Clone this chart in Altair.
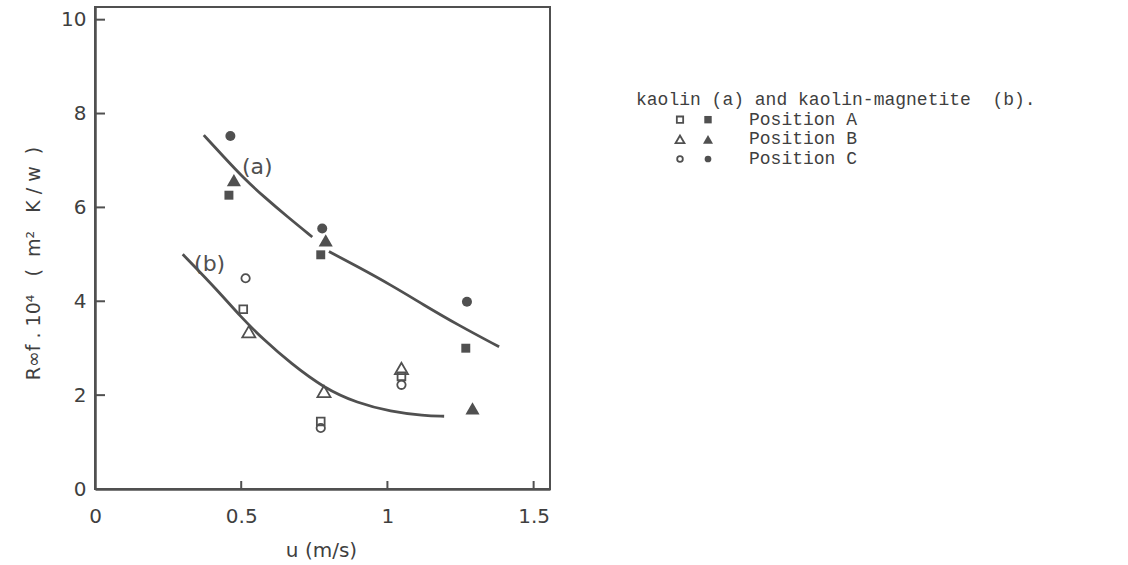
import altair as alt
import pandas as pd

# ---- data ----
# kaolin (a): filled symbols
a_pos = ["C", "B", "A", "C", "B", "A", "C", "A", "B"]
a_u = [0.463, 0.475, 0.458, 0.777, 0.789, 0.772, 1.272, 1.268, 1.291]
a_r = [7.52, 6.58, 6.26, 5.55, 5.30, 4.99, 3.99, 3.00, 1.72]

# kaolin-magnetite (b): open symbols
b_pos = ["C", "A", "B", "B", "A", "C", "B", "A", "C"]
b_u = [0.515, 0.507, 0.526, 0.783, 0.772, 0.772, 1.048, 1.048, 1.048]
b_r = [4.49, 3.83, 3.35, 2.08, 1.44, 1.30, 2.57, 2.40, 2.22]

# fitted curves (traced)
ca_seg = ["a1"] * 6 + ["a2"] * 6
ca_u = [0.372, 0.440, 0.509, 0.577, 0.658, 0.743, 0.800, 0.897, 1.011, 1.125, 1.240, 1.382]
ca_r = [7.54, 7.08, 6.62, 6.23, 5.80, 5.37, 5.06, 4.74, 4.35, 3.92, 3.50, 3.03]
cb_u = [0.300, 0.418, 0.498, 0.577, 0.669, 0.783, 0.897, 1.011, 1.125, 1.194]
cb_r = [5.00, 4.24, 3.67, 3.18, 2.68, 2.15, 1.83, 1.65, 1.56, 1.55]

# curve labels
lab_text = ["(a)", "(b)"]
lab_u = [0.555, 0.392]
lab_r = [6.86, 4.79]

x_ticks = [0, 0.5, 1, 1.5]
y_ticks = [0, 2, 4, 6, 8, 10]

legend_rows = ["A", "B", "C"]
legend_labels = ["Position A", "Position B", "Position C"]
legend_title = "kaolin (a) and kaolin-magnetite\u00a0\u00a0(b)."

positions = ["A", "B", "C"]
shapes = {"A": "square", "B": "triangle-up", "C": "circle"}
size_filled = {"A": 80, "B": 200, "C": 100}
size_open = {"A": 60, "B": 170, "C": 70}
size_leg_filled = {"A": 55, "B": 100, "C": 45}
size_leg_open = {"A": 40, "B": 80, "C": 32}

INK = "#505050"
TXT = "#3f3f3f"
W, H = 455, 482

df_a = pd.DataFrame({"u": a_u, "r": a_r, "pos": a_pos})
df_b = pd.DataFrame({"u": b_u, "r": b_r, "pos": b_pos})
df_ca = pd.DataFrame({"u": ca_u, "r": ca_r, "seg": ca_seg})
df_cb = pd.DataFrame({"u": cb_u, "r": cb_r})
df_lab = pd.DataFrame({"u": lab_u, "r": lab_r, "t": lab_text})
df_xt = pd.DataFrame({"u": [t for t in x_ticks if t > 0]})
df_yt = pd.DataFrame({"r": [t for t in y_ticks if t > 0]})
df_leg = pd.DataFrame({"row": legend_rows, "label": legend_labels, "pos": legend_rows})
df_legt = pd.DataFrame({"row": ["T"], "label": [legend_title]})

x_scale = alt.Scale(domain=[0, 1.556], nice=False, zero=False)
y_scale = alt.Scale(domain=[0, 10.27], nice=False, zero=False)

NB = "\u00a0"
X_TITLE = f"u{NB}(m/s)"
Y_TITLE = f"R∞f{NB}.{NB}10⁴{NB}{NB}{NB}({NB}{NB}m²{NB}{NB}{NB}K{NB}/{NB}w{NB}{NB})"

x_axis = alt.Axis(values=x_ticks, ticks=False, tickSize=0, grid=False,
                  labelPadding=17, labelFontSize=20, labelFont="DejaVu Sans",
                  labelColor=TXT, domainColor=INK, domainWidth=2.5,
                  labelExpr="datum.value == 0 ? '0' : format(datum.value, '.2~f')",
                  titleFontSize=20, titleFont="DejaVu Sans", titleFontWeight="normal",
                  titleColor=TXT, titleX=226, titleY=61, titleBaseline="middle",
                  labelFlush=False)
y_axis = alt.Axis(values=y_ticks, ticks=False, tickSize=0, grid=False,
                  labelPadding=9, labelFontSize=20, labelFont="DejaVu Sans",
                  labelColor=TXT, domainColor=INK, domainWidth=2.5,
                  titleFontSize=19, titleFont="DejaVu Sans", titleFontWeight="normal",
                  titleColor=TXT, titleX=-62, titleY=256, titleBaseline="middle",
                  labelFlush=False)


def X(field="u"):
    return alt.X(f"{field}:Q", scale=x_scale, axis=x_axis, title=X_TITLE)


def Y(field="r"):
    return alt.Y(f"{field}:Q", scale=y_scale, axis=y_axis, title=Y_TITLE)


point_layers = []
for p in positions:
    point_layers.append(
        alt.Chart(df_a).transform_filter(alt.datum.pos == p).mark_point(
            filled=True, opacity=1, color=INK, shape=shapes[p], size=size_filled[p]
        ).encode(x=X(), y=Y()))
    point_layers.append(
        alt.Chart(df_b).transform_filter(alt.datum.pos == p).mark_point(
            filled=False, opacity=1, color=INK, strokeWidth=1.8, shape=shapes[p], size=size_open[p]
        ).encode(x=X(), y=Y()))

curve_a = alt.Chart(df_ca).mark_line(color=INK, strokeWidth=2.8, interpolate="basis").encode(
    x=X(), y=Y(), detail="seg:N")
curve_b = alt.Chart(df_cb).mark_line(color=INK, strokeWidth=2.8, interpolate="basis").encode(
    x=X(), y=Y())

labels = alt.Chart(df_lab).mark_text(font="DejaVu Sans", fontSize=22, color=INK).encode(
    x=X(), y=Y(), text="t:N")

xticks = alt.Chart(df_xt).mark_rule(color=INK, strokeWidth=2).encode(
    x=X(), y=alt.value(H), y2=alt.value(H - 8))
yticks = alt.Chart(df_yt).mark_rule(color=INK, strokeWidth=2).encode(
    y=Y(), x=alt.value(0), x2=alt.value(10))

main = alt.layer(curve_a, curve_b, xticks, yticks, *point_layers, labels)

leg_y = alt.Y("row:O", scale=alt.Scale(type="point", domain=["T", "A", "B", "C"],
                                       range=[93, 152], padding=0), axis=None)
LEG_FONT = "Liberation Mono"
LEG_SIZE = 18
leg_layers = [
    alt.Chart(df_legt).mark_text(align="left", baseline="middle", font=LEG_FONT,
                                 fontSize=LEG_SIZE, color=TXT).encode(
        x=alt.value(541), y=leg_y, text="label:N"),
    alt.Chart(df_leg).mark_text(align="left", baseline="middle", font=LEG_FONT,
                                fontSize=LEG_SIZE, color=TXT).encode(
        x=alt.value(654), y=leg_y, text="label:N"),
]
for p in positions:
    leg_layers.append(
        alt.Chart(df_leg).transform_filter(alt.datum.pos == p).mark_point(
            filled=False, opacity=1, color=INK, strokeWidth=1.8, shape=shapes[p], size=size_leg_open[p]
        ).encode(x=alt.value(585), y=leg_y))
    leg_layers.append(
        alt.Chart(df_leg).transform_filter(alt.datum.pos == p).mark_point(
            filled=True, opacity=1, color=INK, shape=shapes[p], size=size_leg_filled[p]
        ).encode(x=alt.value(613), y=leg_y))

legend = alt.layer(*leg_layers)

chart = alt.layer(main, legend).resolve_scale(
    y="independent"
).properties(
    width=W, height=H,
    autosize=alt.AutoSizeParams(type="none"),
    padding={"left": 95, "top": 7, "right": 1128 - 95 - W, "bottom": 565 - 7 - H},
    background="white",
).configure_view(stroke=INK, strokeWidth=2)

chart.save("out.html", embed_options={"renderer": "svg", "actions": False})
